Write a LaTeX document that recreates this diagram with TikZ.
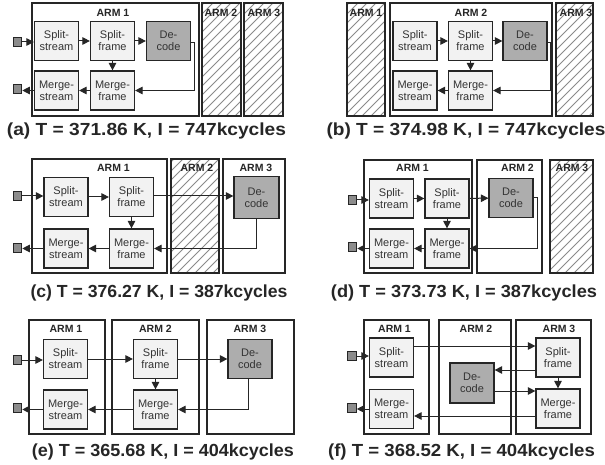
\documentclass[tikz,border=0pt]{standalone}
\usepackage{fontspec}
\setmainfont{Liberation Sans}
\usetikzlibrary{arrows.meta}
\definecolor{bord}{HTML}{262626}
\definecolor{lite}{HTML}{F2F2F2}
\definecolor{dgray}{HTML}{ADADAD}
\definecolor{sqg}{HTML}{8C8C8C}
\definecolor{txt}{HTML}{333333}
\definecolor{hatchc}{HTML}{8A8A8A}
\newcommand{\hatchbox}[4]{%
  \begin{scope}
    \clip (#1,#2) rectangle (#3,#4);
    \foreach \k in {0,9,...,180} {\draw[hatch] (#1-120+\k,#4) -- ++(130,-130);}
  \end{scope}
  \draw[arm] (#1,#2) rectangle (#3,#4);}
\newcommand{\capt}[2]{\scalebox{#1}[1]{#2}}
\begin{document}
\begin{tikzpicture}[x=1pt,y=-1pt,
 arm/.style={draw=bord,line width=1.3pt},
 blk/.style={draw=bord,line width=1.2pt,fill=lite,text=txt,minimum width=44pt,minimum height=39pt,inner sep=0pt,align=center,font=\fontsize{11}{12}\selectfont},
 dec/.style={blk,fill=dgray},
 sq/.style={draw=bord,line width=1.1pt,fill=sqg,minimum size=8.5pt,inner sep=0pt},
 lbl/.style={font=\fontsize{10.5}{11}\selectfont\bfseries,text=bord,inner sep=0pt},
 captxt/.style={font=\fontsize{17.5}{20}\selectfont\bfseries,inner sep=0pt,anchor=base,text=bord},
 conn/.style={-{Triangle[length=7.5pt,width=7.5pt]},line width=1pt,draw=bord},
 hatch/.style={draw=hatchc,line width=0.8pt}]
\fill[white] (0,0) rectangle (605,465);
\useasboundingbox (0,0) rectangle (605,465);

% ---------- (a)
\draw[arm] (32,3) rectangle (199,116);
\node[lbl] (aL1) at (113,13) {ARM 1};
\hatchbox{202}{3}{241}{116}
\node[lbl] (aL2) at (221,13) {ARM 2};
\hatchbox{244}{3}{283}{116}
\node[lbl] (aL3) at (264,13) {ARM 3};
\node[blk] (aSS) at (56.5,41) {Split-\\stream};
\node[blk] (aSF) at (112.5,41) {Split-\\frame};
\node[dec] (aD) at (168.5,41) {De-\\code};
\node[blk] (aMS) at (56.5,90.5) {Merge-\\stream};
\node[blk] (aMF) at (112.5,90.5) {Merge-\\frame};
\node[sq] (aIn) at (17.5,42) {};
\node[sq] (aOut) at (17.5,89) {};
\draw[conn] (aIn.east) -- (aIn.east -| aSS.west);
\draw[conn] (aSS) -- (aSF);
\draw[conn] (aSF) -- (aD);
\draw[conn] (aSF) -- (aMF);
\draw[conn] ([yshift=-2pt]aD.east) -- ++(3,0) |- (aMF.east);
\draw[conn] (aMF) -- (aMS);
\draw[conn] (aMS.west) -- (aMS.west -| aOut.east);
\node[captxt] (aC) at (146.5,136) {\capt{1.095}{(a) T = 371.86 K, I = 747kcycles}};

% ---------- (b)
\hatchbox{347}{3}{385}{116}
\node[lbl] (bL1) at (366,13) {ARM 1};
\draw[arm] (390,3) rectangle (552,116);
\node[lbl] (bL2) at (471,13) {ARM 2};
\hatchbox{556}{3}{593}{116}
\node[lbl] (bL3) at (576,13) {ARM 3};
\node[blk] (bSS) at (415,41) {Split-\\stream};
\node[blk] (bSF) at (470.5,41) {Split-\\frame};
\node[dec] (bD) at (525,41) {De-\\code};
\node[blk] (bMS) at (415,90.5) {Merge-\\stream};
\node[blk] (bMF) at (470.5,90.5) {Merge-\\frame};
\draw[conn] (bSS) -- (bSF);
\draw[conn] (bSF) -- (bD);
\draw[conn] (bSF) -- (bMF);
\draw[conn] ([yshift=-2pt]bD.east) -- ++(2.5,0) |- (bMF.east);
\draw[conn] (bMF) -- (bMS);
\node[captxt] (bC) at (466,136) {\capt{1.09}{(b) T = 374.98 K, I = 747kcycles}};

% ---------- (c)
\draw[arm] (32,159) rectangle (167,273);
\node[lbl] (cL1) at (113.5,168) {ARM 1};
\hatchbox{171}{159}{219}{273}
\node[lbl] (cL2) at (197,168) {ARM 2};
\draw[arm] (223,159) rectangle (285,273);
\node[lbl] (cL3) at (256,168) {ARM 3};
\node[blk] (cSS) at (66,197) {Split-\\stream};
\node[blk] (cSF) at (131.5,197) {Split-\\frame};
\node[dec,minimum width=45pt,minimum height=42pt] (cD) at (256.5,197.5) {De-\\code};
\node[blk] (cMS) at (66,248.5) {Merge-\\stream};
\node[blk] (cMF) at (131.5,248.5) {Merge-\\frame};
\node[sq] (cIn) at (17.5,196) {};
\node[sq] (cOut) at (17.5,248) {};
\draw[conn] (cIn.east) -- (cIn.east -| cSS.west);
\draw[conn] (cSS) -- (cSF);
\draw[conn] (cSF.east |- cIn.east) -- (cD.west |- cIn.east);
\draw[conn] (cSF) -- (cMF);
\draw[conn] (cD.south) |- (cMF.east);
\draw[conn] (cMF) -- (cMS);
\draw[conn] (cMS.west) -- (cMS.west -| cOut.east);
\node[captxt] (cC) at (159,297) {\capt{1.008}{(c) T = 376.27 K, I = 387kcycles}};

% ---------- (d)
\draw[arm] (364,160) rectangle (472,273);
\node[lbl] (dL1) at (412.5,168) {ARM 1};
\draw[arm] (477,160) rectangle (542,273);
\node[lbl] (dL2) at (517.5,168) {ARM 2};
\hatchbox{550}{160}{593}{273}
\node[lbl] (dL3) at (572,168) {ARM 3};
\node[blk] (dSS) at (391.5,198.5) {Split-\\stream};
\node[blk] (dSF) at (447,198.5) {Split-\\frame};
\node[dec] (dD) at (511,198) {De-\\code};
\node[blk] (dMS) at (391.5,248.5) {Merge-\\stream};
\node[blk] (dMF) at (447,248.5) {Merge-\\frame};
\node[sq] (dIn) at (352.5,200) {};
\node[sq] (dOut) at (352.5,247) {};
\draw[conn] (dIn.east) -- (dIn.east -| dSS.west);
\draw[conn] (dSS) -- (dSF);
\draw[conn] (dSF) -- (dD);
\draw[conn] (dSF) -- (dMF);
\draw[conn] (dD.east) -- ++(4,0) |- (dMF.east);
\draw[conn] (dMF) -- (dMS);
\draw[conn] (dMS.west) -- (dMS.west -| dOut.east);
\node[captxt] (dC) at (464,297) {\capt{1.04}{(d) T = 373.73 K, I = 387kcycles}};

% ---------- (e)
\draw[arm] (29,320) rectangle (105,434);
\node[lbl] (eL1) at (66,329) {ARM 1};
\draw[arm] (112,320) rectangle (199,434);
\node[lbl] (eL2) at (155.5,329) {ARM 2};
\draw[arm] (207,320) rectangle (294,434);
\node[lbl] (eL3) at (250,329) {ARM 3};
\node[blk] (eSS) at (65.5,359) {Split-\\stream};
\node[blk] (eSF) at (155.5,359) {Split-\\frame};
\node[dec] (eD) at (250,359) {De-\\code};
\node[blk] (eMS) at (65.5,409.5) {Merge-\\stream};
\node[blk] (eMF) at (155.5,409.5) {Merge-\\frame};
\node[sq] (eIn) at (17.5,360) {};
\node[sq] (eOut) at (17.5,408) {};
\draw[conn] (eIn.east) -- (eIn.east -| eSS.west);
\draw[conn] (eSS) -- (eSF);
\draw[conn] (eSF) -- (eD);
\draw[conn] (eSF) -- (eMF);
\draw[conn] ([xshift=-2pt]eD.south) |- (eMF.east);
\draw[conn] (eMF) -- (eMS);
\draw[conn] (eMS.west) -- (eMS.west -| eOut.east);
\node[captxt] (eC) at (163,456) {\capt{1.028}{(e) T = 365.68 K, I = 404kcycles}};

% ---------- (f)
\draw[arm] (364,320) rectangle (429,434);
\node[lbl] (fL1) at (394.5,329) {ARM 1};
\draw[arm] (439,320) rectangle (511,434);
\node[lbl] (fL2) at (476,329) {ARM 2};
\draw[arm] (516,320) rectangle (591,434);
\node[lbl] (fL3) at (559,329) {ARM 3};
\node[blk] (fSS) at (391.5,357.5) {Split-\\stream};
\node[blk] (fMS) at (391.5,409) {Merge-\\stream};
\node[dec,minimum height=40pt] (fD) at (472,383) {De-\\code};
\node[blk] (fSF) at (558,357.5) {Split-\\frame};
\node[blk] (fMF) at (558,408.5) {Merge-\\frame};
\node[sq] (fIn) at (352,356) {};
\node[sq] (fOut) at (352,408) {};
\draw[conn] (fIn.east) -- (fIn.east -| fSS.west);
\draw[conn] ([yshift=11.5pt]fSS.east) -- ([yshift=11.5pt]fSS.east -| fSF.west);
\draw[conn] ([yshift=-12.5pt]fSF.west) -- ([yshift=-12.5pt]fSF.west -| fD.east);
\draw[conn] ([yshift=-8pt]fD.east) -- ([yshift=-8pt]fD.east -| fMF.west);
\draw[conn] (fSF) -- (fMF);
\draw[conn] ([yshift=-7.5pt]fMF.west) -- ([yshift=-7.5pt]fMF.west -| fMS.east);
\draw[conn] (fMS.west) -- (fMS.west -| fOut.east);
\node[captxt] (fC) at (461.5,456) {\capt{1.063}{(f) T = 368.52 K, I = 404kcycles}};
\end{tikzpicture}
\end{document}
